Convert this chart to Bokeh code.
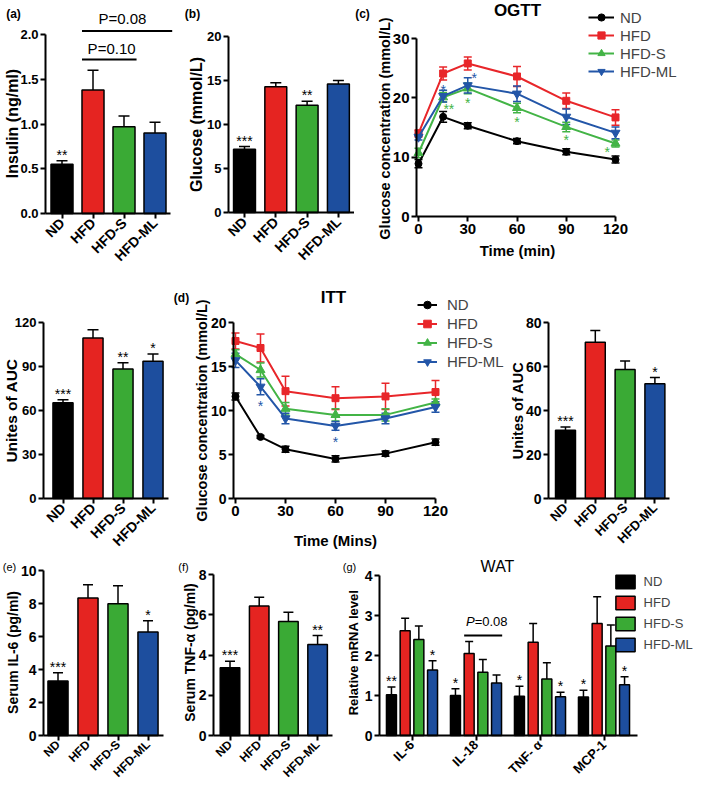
import math
from bokeh.plotting import figure
from bokeh.models import (Range1d, FixedTicker, Label, Whisker, TeeHead, ColumnDataSource,
                          Legend, LegendItem, NumeralTickFormatter)
from bokeh.layouts import column, row
from bokeh.embed import file_html
from bokeh.resources import INLINE
from bokeh.core.properties import value

FONT = "Liberation Sans"

# ---------------- data ----------------
groups = ["ND", "HFD", "HFD-S", "HFD-ML"]
bar_colors = ["#000000", "#e52421", "#3aaa35", "#1d4e9e"]
line_colors = ["#000000", "#e8262a", "#43b446", "#2356a8"]
group_markers = ["circle", "square", "triangle", "inverted_triangle"]

insulin = [0.55, 1.38, 0.97, 0.90]
insulin_err = [0.04, 0.22, 0.12, 0.12]
insulin_sig = ["**", "", "", ""]
insulin_ticks = [0.0, 0.5, 1.0, 1.5, 2.0]
insulin_p_text = ["P=0.10", "P=0.08"]
insulin_p_level = [1.72, 2.04]

glucose = [7.2, 14.3, 12.2, 14.6]
glucose_err = [0.3, 0.45, 0.45, 0.4]
glucose_sig = ["***", "", "**", ""]
glucose_ticks = [0, 5, 10, 15, 20]

time_min = [0, 15, 30, 60, 90, 120]
time_ticks = [0, 30, 60, 90, 120]

ogtt_nd = [8.9, 16.8, 15.3, 12.7, 10.9, 9.6]
ogtt_hfd = [14.0, 24.1, 25.8, 23.6, 19.5, 16.7]
ogtt_hfds = [10.7, 20.1, 21.6, 18.3, 15.1, 12.3]
ogtt_hfdml = [13.4, 20.3, 22.1, 20.7, 16.8, 14.1]
ogtt_nd_err = [0.7, 0.9, 0.5, 0.45, 0.5, 0.6]
ogtt_hfd_err = [0.6, 1.1, 1.1, 1.7, 1.3, 1.3]
ogtt_hfds_err = [0.8, 0.8, 0.9, 0.8, 0.8, 0.6]
ogtt_hfdml_err = [0.5, 1.0, 1.3, 1.3, 1.3, 1.0]
ogtt_ticks = [0, 10, 20, 30]
ogtt_star_x = [15, 34, 18.5, 30, 60, 90, 115]
ogtt_star_y = [21.9, 23.8, 18.6, 19.6, 16.5, 13.4, 11.3]
ogtt_star_text = ["*", "*", "**", "*", "*", "*", "*"]
ogtt_star_group = [3, 3, 2, 2, 2, 2, 2]

ogtt_auc = [65.2, 109.4, 88.3, 93.5]
ogtt_auc_err = [2.2, 5.6, 4.3, 5.0]
ogtt_auc_sig = ["***", "", "**", "*"]
ogtt_auc_ticks = [0, 30, 60, 90, 120]

itt_nd = [11.6, 7.0, 5.6, 4.5, 5.1, 6.4]
itt_hfd = [17.9, 17.1, 12.2, 11.4, 11.6, 12.1]
itt_hfds = [16.4, 14.6, 10.2, 9.5, 9.5, 10.9]
itt_hfdml = [15.7, 12.7, 9.1, 8.25, 9.1, 10.4]
itt_nd_err = [0.4, 0.15, 0.35, 0.35, 0.3, 0.35]
itt_hfd_err = [0.9, 1.6, 1.7, 1.3, 1.5, 1.3]
itt_hfds_err = [0.5, 0.8, 0.7, 0.7, 0.7, 0.4]
itt_hfdml_err = [0.8, 0.9, 0.6, 0.5, 0.6, 0.6]
itt_ticks = [0, 5, 10, 15, 20]
itt_star_x = [15, 60]
itt_star_y = [10.9, 6.8]
itt_star_text = ["*", "*"]
itt_star_group = [3, 3]

itt_auc = [31.0, 71.0, 58.6, 52.2]
itt_auc_err = [1.5, 5.4, 3.9, 2.8]
itt_auc_sig = ["***", "", "", "*"]
itt_auc_ticks = [0, 20, 40, 60, 80]

il6 = [3.3, 8.34, 7.98, 6.27]
il6_err = [0.5, 0.8, 1.1, 0.68]
il6_sig = ["***", "", "", "*"]
il6_ticks = [0, 2, 4, 6, 8, 10]

tnf = [3.37, 6.44, 5.67, 4.53]
tnf_err = [0.33, 0.44, 0.46, 0.44]
tnf_sig = ["***", "", "", "**"]
tnf_ticks = [0, 2, 4, 6, 8]

genes = ["IL-6", "IL-18", "TNF- \u03b1", "MCP-1"]
wat_nd = [1.02, 1.00, 0.98, 0.96]
wat_hfd = [2.62, 2.05, 2.33, 2.80]
wat_hfds = [2.40, 1.58, 1.41, 2.24]
wat_hfdml = [1.64, 1.31, 0.97, 1.27]
wat_nd_err = [0.19, 0.17, 0.25, 0.17]
wat_hfd_err = [0.31, 0.30, 0.47, 0.67]
wat_hfds_err = [0.34, 0.32, 0.41, 0.52]
wat_hfdml_err = [0.23, 0.20, 0.11, 0.20]
wat_nd_sig = ["**", "*", "*", "*"]
wat_hfdml_sig = ["*", "", "*", "*"]
wat_ticks = [0, 1, 2, 3, 4]
wat_p_level = 2.5

# row geometry (pixels of the picture)
R1_Y, R1_H = 0, 283
R2_Y, R2_H = 283, 272
R3_Y, R3_H = 555, 231


# ---------------- helpers ----------------
def mk(ox, oy, w, h, xa, xpa, kx, ypz, ky):
    """Figure whose frame fills the whole canvas; (xa at pixel xpa), y=0 at pixel ypz."""
    xr = (xa - (xpa - ox) / kx, xa + (ox + w - xpa) / kx)
    yr = (-(oy + h - ypz) / ky, (ypz - oy) / ky)
    p = figure(width=w, height=h, x_range=Range1d(xr[0], xr[1]), y_range=Range1d(yr[0], yr[1]),
               min_border_left=0, min_border_right=0, min_border_top=0, min_border_bottom=0,
               output_backend="svg", toolbar_location=None, tools="", title=None)
    p.outline_line_color = None
    p.xgrid.visible = False
    p.ygrid.visible = False
    p.background_fill_color = "white"
    p.border_fill_color = "white"
    X = lambda rx: xa + (rx - xpa) / kx
    Y = lambda ry: (ypz - ry) / ky
    return p, X, Y


def style_axes(p, xticks, xbounds, yticks, ybounds, tick_fs, xtick_fs, overrides=None,
               rotate=False, yfmt=None):
    xa, ya = p.xaxis[0], p.yaxis[0]
    for a in (xa, ya):
        a.axis_line_width = 2
        a.axis_line_color = "black"
        a.major_tick_line_width = 2
        a.major_tick_line_color = "black"
        a.major_tick_in = 0
        a.major_tick_out = 5
        a.minor_tick_line_color = None
        a.major_label_text_font = FONT
        a.major_label_text_font_style = "bold"
        a.major_label_text_color = "black"
        a.major_label_text_font_size = f"{tick_fs}px"
        a.major_label_standoff = 2
    xa.major_label_text_font_size = f"{xtick_fs}px"
    xa.ticker = FixedTicker(ticks=xticks)
    xa.bounds = xbounds
    xa.fixed_location = 0
    ya.ticker = FixedTicker(ticks=yticks)
    ya.bounds = ybounds
    ya.fixed_location = xbounds[0]
    if overrides:
        xa.major_label_overrides = overrides
    if rotate:
        xa.major_label_orientation = math.pi / 4
    if yfmt:
        ya.formatter = NumeralTickFormatter(format=yfmt)


def txt(p, x, y, s, fs, style="normal", align="center", baseline="middle", angle=0.0, color="black"):
    p.add_layout(Label(x=x, y=y, text=s, text_font=FONT, text_font_size=f"{fs}px",
                       text_font_style=style, text_align=align, text_baseline=baseline,
                       angle=angle, text_color=color))


def bar_panel(ox, oy, w, h, yaxis_px, c0, step, zero, k, vals, errs, sigs, yticks,
              tick_fs, cat_fs, bar_w, cap, yfmt=None):
    p, X, Y = mk(ox, oy, w, h, 0, c0, step, zero, k)
    xs = list(range(len(vals)))
    src = ColumnDataSource(dict(x=xs, top=vals, hi=[v + e for v, e in zip(vals, errs)],
                                color=bar_colors, sig=sigs,
                                sy=[v + e + 6.0 / k for v, e in zip(vals, errs)]))
    p.add_layout(Whisker(source=src, base="x", lower="top", upper="hi", line_color="black",
                         line_width=1.5, lower_head=None,
                         upper_head=TeeHead(size=cap, line_color="black", line_width=1.5)))
    p.vbar(x="x", top="top", bottom=0, width=bar_w, source=src, fill_color="color",
           line_color="black", line_width=1.5)
    p.text(x="x", y="sy", text="sig", source=src, text_font=value(FONT), text_font_size="14px",
           text_align="center", text_baseline="middle", text_color="black")
    style_axes(p, xs, (X(yaxis_px), 3.5), yticks, (0, yticks[-1]), tick_fs, cat_fs,
               overrides={i: g for i, g in enumerate(groups)}, rotate=True, yfmt=yfmt)
    return p, X, Y


def line_panel(p, xs, series, errs, cap, msize, leg_loc, gw, gh, sp, standoff, leg_fs):
    items = []
    for i in range(4):
        c = line_colors[i]
        src = ColumnDataSource(dict(x=xs, y=series[i],
                                    lo=[v - e for v, e in zip(series[i], errs[i])],
                                    hi=[v + e for v, e in zip(series[i], errs[i])]))
        p.add_layout(Whisker(source=src, base="x", lower="lo", upper="hi", line_color=c,
                             line_width=1.5,
                             lower_head=TeeHead(size=cap, line_color=c, line_width=1.5),
                             upper_head=TeeHead(size=cap, line_color=c, line_width=1.5)))
        rl = p.line("x", "y", source=src, line_color=c, line_width=2)
        sz = msize + 2 if "triangle" in group_markers[i] else msize
        rs = p.scatter("x", "y", source=src, marker=group_markers[i], size=sz,
                       fill_color=c, line_color=c)
        items.append(LegendItem(label=groups[i], renderers=[rl, rs]))
    leg = Legend(items=items, location=leg_loc, glyph_width=gw, glyph_height=gh,
                 label_height=gh, spacing=sp, padding=0, margin=0, label_standoff=standoff,
                 border_line_color=None, background_fill_alpha=0,
                 label_text_font=FONT, label_text_font_size=f"{leg_fs}px")
    p.add_layout(leg)


def stars(p, xs, ys, texts, grp, shift):
    src = ColumnDataSource(dict(x=xs, y=[v - shift for v in ys], t=texts,
                                c=[line_colors[g] for g in grp]))
    p.text(x="x", y="y", text="t", source=src, text_font=value(FONT), text_font_size="14px",
           text_align="center", text_baseline="middle", text_color="c")


# ---------------- (a) insulin ----------------
fa, Xa, Ya = bar_panel(0, R1_Y, 180, R1_H, 45, 61.5, 31, 213, 89.5,
                       insulin, insulin_err, insulin_sig, insulin_ticks, 13, 14, 0.71, 11,
                       yfmt="0.0")
bw = 0.71
fa.segment(x0=[1 - bw / 2, 1 - bw / 2], x1=[2 + bw / 2 + 0.05, 3 + bw / 2 + 0.2],
           y0=insulin_p_level, y1=insulin_p_level, line_color="black", line_width=2)
txt(fa, 1.6, insulin_p_level[0] + 11 / 89.5, insulin_p_text[0], 15)
txt(fa, 1.95, insulin_p_level[1] + 12 / 89.5, insulin_p_text[1], 15)
txt(fa, Xa(12), Ya(123), "Insulin (ng/ml)", 16, "bold", angle=math.pi / 2)
txt(fa, Xa(13), Ya(13), "(a)", 12, "bold")

# ---------------- (b) glucose ----------------
fb_, Xb, Yb = bar_panel(180, R1_Y, 174, R1_H, 228, 244, 31.3, 212, 8.8,
                        glucose, glucose_err, glucose_sig, glucose_ticks, 13, 14, 0.70, 11)
txt(fb_, Xb(196), Yb(124), "Glucose (mmol/L)", 16, "bold", angle=math.pi / 2)
txt(fb_, Xb(192), Yb(13), "(b)", 12, "bold")

# ---------------- (c) OGTT ----------------
fc, Xc, Yc = mk(354, R1_Y, 339, R1_H, 0, 418, 1.6417, 216, 5.933)
line_panel(fc, time_min, [ogtt_nd, ogtt_hfd, ogtt_hfds, ogtt_hfdml],
           [ogtt_nd_err, ogtt_hfd_err, ogtt_hfds_err, ogtt_hfdml_err], 8, 7,
           (588 - 354, R1_Y + R1_H - 80), 26, 18, 0, 6, 15)
stars(fc, ogtt_star_x, ogtt_star_y, ogtt_star_text, ogtt_star_group, 3 / 5.933)
style_axes(fc, time_ticks, (Xc(416), 120), ogtt_ticks, (0, 30), 15, 15)
txt(fc, Xc(517), Yc(10), "OGTT", 17, "bold")
txt(fc, Xc(384), Yc(128), "Glucose concentration (mmol/L)", 14.5, "bold", angle=math.pi / 2)
txt(fc, Xc(517), Yc(250), "Time (min)", 15, "bold")
txt(fc, Xc(362), Yc(13), "(c)", 12, "bold")

# ---------------- OGTT AUC ----------------
fd, Xd, Yd = bar_panel(0, R2_Y, 172, R2_H, 43, 62.5, 30, 498, 176 / 120,
                       ogtt_auc, ogtt_auc_err, ogtt_auc_sig, ogtt_auc_ticks, 13, 14, 0.67, 11)
txt(fd, Xd(11), Yd(410), "Unites of AUC", 15.5, "bold", angle=math.pi / 2)

# ---------------- (d) ITT ----------------
fi, Xi, Yi = mk(172, R2_Y, 333, R2_H, 0, 235, 1.6667, 498, 8.8)
line_panel(fi, time_min, [itt_nd, itt_hfd, itt_hfds, itt_hfdml],
           [itt_nd_err, itt_hfd_err, itt_hfds_err, itt_hfdml_err], 8, 7,
           (417 - 172, R2_Y + R2_H - 371), 20, 19, 0, 10, 15)
stars(fi, itt_star_x, itt_star_y, itt_star_text, itt_star_group, 3 / 8.8)
style_axes(fi, time_ticks, (Xi(233), 120), itt_ticks, (0, 20), 14, 15)
txt(fi, Xi(333), Yi(297), "ITT", 17, "bold")
txt(fi, Xi(201), Yi(410), "Glucose concentration (mmol/L)", 14.5, "bold", angle=math.pi / 2)
txt(fi, Xi(335), Yi(540), "Time (Mins)", 15, "bold")
txt(fi, Xi(181), Yi(297), "(d)", 12, "bold")

# ---------------- ITT AUC ----------------
fe2, Xe2, Ye2 = bar_panel(505, R2_Y, 188, R2_H, 548, 565, 29.8, 498, 2.2,
                          itt_auc, itt_auc_err, itt_auc_sig, itt_auc_ticks, 14, 13, 0.67, 10)
txt(fe2, Xe2(517), Ye2(410), "Unites of AUC", 14.5, "bold", angle=math.pi / 2)

# ---------------- (e) IL-6 ----------------
fe, Xe, Ye = bar_panel(0, R3_Y, 172, R3_H, 43, 57.5, 30, 735, 16.5,
                       il6, il6_err, il6_sig, il6_ticks, 14, 12, 0.67, 10)
txt(fe, Xe(12), Ye(652), "Serum IL-6 (pg/ml)", 14, "bold", angle=math.pi / 2)
txt(fe, Xe(9), Ye(566), "(e)", 11)

# ---------------- (f) TNF-a ----------------
ff, Xf, Yf = bar_panel(172, R3_Y, 168, R3_H, 213, 229.5, 29.2, 735, 20.1,
                       tnf, tnf_err, tnf_sig, tnf_ticks, 14, 12, 0.67, 10)
txt(ff, Xf(189), Yf(652), "Serum TNF-\u03b1 (pg/ml)", 14, "bold", angle=math.pi / 2)
txt(ff, Xf(183), Yf(566), "(f)", 11)

# ---------------- (g) WAT ----------------
k_g = 40
fg, Xg, Yg = mk(340, R3_Y, 353, R3_H, 0, 411.5, 64, 735, k_g)
gx = list(range(4))
offs = [-1.5 * 0.214, -0.5 * 0.214, 0.5 * 0.214, 1.5 * 0.214]
wat_vals = [wat_nd, wat_hfd, wat_hfds, wat_hfdml]
wat_errs = [wat_nd_err, wat_hfd_err, wat_hfds_err, wat_hfdml_err]
items = []
for i in range(4):
    xs = [g + offs[i] for g in gx]
    src = ColumnDataSource(dict(x=xs, top=wat_vals[i],
                                hi=[v + e for v, e in zip(wat_vals[i], wat_errs[i])]))
    fg.add_layout(Whisker(source=src, base="x", lower="top", upper="hi", line_color="black",
                          line_width=1.5, lower_head=None,
                          upper_head=TeeHead(size=8, line_color="black", line_width=1.5)))
    r = fg.vbar(x="x", top="top", bottom=0, width=0.156, source=src,
                fill_color=bar_colors[i], line_color="black", line_width=1.5)
    items.append(LegendItem(label=groups[i], renderers=[r]))
for i, sig in ((0, wat_nd_sig), (3, wat_hfdml_sig)):
    src = ColumnDataSource(dict(x=[g + offs[i] for g in gx],
                                y=[v + e + 6.0 / k_g for v, e in zip(wat_vals[i], wat_errs[i])],
                                t=sig))
    fg.text(x="x", y="y", text="t", source=src, text_font=value(FONT), text_font_size="14px",
            text_align="center", text_baseline="middle", text_color="black")
fg.add_layout(Legend(items=items, location=(612.6 - 340, R3_Y + R3_H - 653), glyph_width=24,
                     glyph_height=17, label_height=17, spacing=4, padding=0, margin=0,
                     label_standoff=7, border_line_color=None, background_fill_alpha=0,
                     label_text_font=FONT, label_text_font_size="13px"))
fg.segment(x0=[1 + offs[1] - 0.078], x1=[1 + offs[3] + 0.078 + 0.01],
           y0=[wat_p_level], y1=[wat_p_level], line_color="black", line_width=2)
txt(fg, 1 + offs[1] - 0.05, wat_p_level + 14 / k_g, "P", 13, "italic", align="left")
txt(fg, 1 + offs[1] - 0.05 + 8.7 / 64, wat_p_level + 14 / k_g, "=0.08", 13, align="left")
style_axes(fg, gx, (Xg(379), 3.52), wat_ticks, (0, 4), 14, 13,
           overrides={i: g for i, g in enumerate(genes)}, rotate=True)
txt(fg, Xg(497), Yg(566), "WAT", 16)
txt(fg, Xg(353), Yg(652), "Relative mRNA level", 13, "bold", angle=math.pi / 2)
txt(fg, Xg(349), Yg(566), "(g)", 11)

layout = column(row(fa, fb_, fc), row(fd, fi, fe2), row(fe, ff, fg))
open("out.html", "w").write(file_html(layout, INLINE))
